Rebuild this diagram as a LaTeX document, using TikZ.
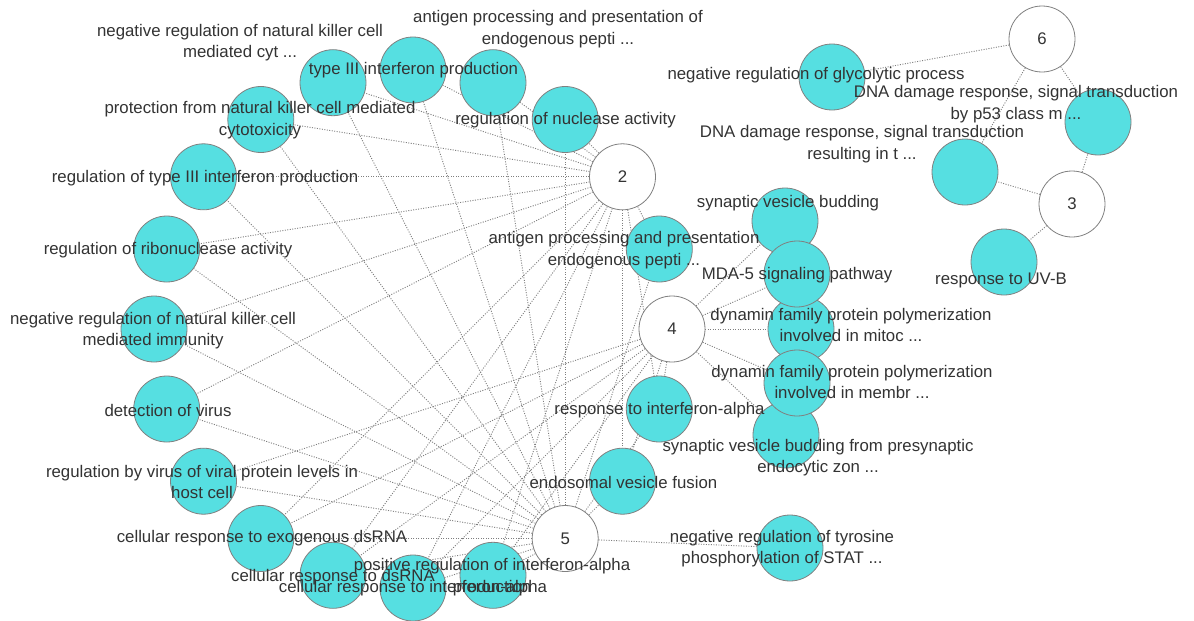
\documentclass[tikz,border=0pt]{standalone}
\usepackage{fontspec}
\setmainfont{Liberation Sans}
\usetikzlibrary{backgrounds}
\definecolor{termcyan}{HTML}{56DFE1}
\definecolor{bordergray}{HTML}{808080}
\definecolor{edgegray}{HTML}{7E7E7E}
\definecolor{txt}{HTML}{333333}
\begin{document}
\begin{tikzpicture}[x=1pt,y=-1pt,
  term/.style={circle, draw=bordergray, fill=termcyan, minimum size=66pt, inner sep=0pt, line width=0.8pt},
  hub/.style={circle, draw=bordergray, fill=white, minimum size=66pt, inner sep=0pt, line width=0.8pt, text=txt, font=\fontsize{16.8pt}{21pt}\selectfont},
  lbl/.style={text=txt, font=\fontsize{16.8pt}{21.5pt}\selectfont, align=center, inner sep=0pt},
  edge/.style={draw=edgegray, line width=0.9pt, dash pattern=on 1pt off 1.5pt}]
\useasboundingbox (0,0) rectangle (1194,621);
% hubs
\node[hub] (h2) at (622.5,176.8) {2};
\node[hub] (h4) at (672,329) {4};
\node[hub] (h5) at (565.2,538.5) {5};
\node[hub] (h6) at (1042,39) {6};
\node[hub] (h3) at (1072,204) {3};
% circle of terms
\node[term] (t18) at (659.3,249.0) {};
\node[term] (t54) at (565.2,119.5) {};
\node[term] (t72) at (493.0,82.7) {};
\node[term] (t90) at (413,70) {};
\node[term] (t108) at (333.0,82.7) {};
\node[term] (t126) at (260.8,119.5) {};
\node[term] (t144) at (203.5,176.8) {};
\node[term] (t162) at (166.7,249.0) {};
\node[term] (t180) at (154,329) {};
\node[term] (t198) at (166.7,409.0) {};
\node[term] (t216) at (203.5,481.2) {};
\node[term] (t234) at (260.8,538.5) {};
\node[term] (t252) at (333.0,575.3) {};
\node[term] (t270) at (413,588) {};
\node[term] (t288) at (493.0,575.3) {};
\node[term] (t324) at (622.5,481.2) {};
\node[term] (t342) at (659.3,409.0) {};
% right cluster
\node[term] (synbud) at (785,221) {};
\node[term] (synpre) at (786,435) {};
\node[term] (dynmit) at (801,329) {};
\node[term] (mda) at (797,274) {};
\node[term] (dynmem) at (797,383) {};
\node[term] (stat) at (790,548) {};
\node[term] (glyco) at (832,77) {};
\node[term] (p53) at (1098,122) {};
\node[term] (rit) at (965,172) {};
\node[term] (uvb) at (1004,262) {};
% edges
\begin{pgfonlayer}{background}
\fill[white] (0,0) rectangle (1194,621);
\foreach \t in {t18,t54,t72,t90,t108,t126,t144,t162,t180,t198,t234,t252,t270,t288,t324,t342}
  \draw[edge] (h2) -- (\t);
\foreach \t in {t18,t54,t72,t90,t108,t126,t144,t162,t180,t198,t216,t234,t252,t270,t288,t324,t342,stat}
  \draw[edge] (h5) -- (\t);
\foreach \t in {synbud,mda,dynmit,dynmem,synpre,t216,t234,t252,t270,t288,t324,t342}
  \draw[edge] (h4) -- (\t);
\foreach \t in {glyco,p53,rit}
  \draw[edge] (h6) -- (\t);
\foreach \t in {p53,rit,uvb}
  \draw[edge] (h3) -- (\t);
\end{pgfonlayer}
% labels
\node[lbl] (l18) at (624,250) {antigen processing and presentation\\endogenous pepti ...};
\node[lbl] (l54) at (565.5,120) {regulation of nuclease activity};
\node[lbl] (l72) at (558,29) {antigen processing and presentation of\\endogenous pepti ...};
\node[lbl] (l90) at (413.5,70) {type III interferon production};
\node[lbl] (l108) at (240,42.5) {negative regulation of natural killer cell\\mediated cyt ...};
\node[lbl] (l126) at (260,120) {protection from natural killer cell mediated\\cytotoxicity};
\node[lbl] (l144) at (205,178) {regulation of type III interferon production};
\node[lbl] (l162) at (168,250) {regulation of ribonuclease activity};
\node[lbl] (l180) at (153,330.5) {negative regulation of natural killer cell\\mediated immunity};
\node[lbl] (l198) at (168,410) {detection of virus};
\node[lbl] (l216) at (202,482) {regulation by virus of viral protein levels in\\host cell};
\node[lbl] (l234) at (262,538) {cellular response to exogenous dsRNA};
\node[lbl] (l252) at (333,577) {cellular response to dsRNA};
\node[lbl] (l270) at (413,588) {cellular response to interferon-alpha};
\node[lbl] (l288) at (492,577) {positive regulation of interferon-alpha\\production};
\node[lbl] (l324) at (623.5,482) {endosomal vesicle fusion};
\node[lbl] (l342) at (659.5,410) {response to interferon-alpha};
\node[lbl] (lsynbud) at (788,203) {synaptic vesicle budding};
\node[lbl] (lmda) at (797,275) {MDA-5 signaling pathway};
\node[lbl] (ldynmit) at (851,325) {dynamin family protein polymerization\\involved in mitoc ...};
\node[lbl] (ldynmem) at (852,382) {dynamin family protein polymerization\\involved in membr ...};
\node[lbl] (lsynpre) at (818,457.5) {synaptic vesicle budding from presynaptic\\endocytic zon ...};
\node[lbl] (lstat) at (782,548.5) {negative regulation of tyrosine\\phosphorylation of STAT ...};
\node[lbl] (lglyco) at (816,75) {negative regulation of glycolytic process};
\node[lbl] (lp53) at (1016,104) {DNA damage response, signal transduction\\by p53 class m ...};
\node[lbl] (lrit) at (862,144) {DNA damage response, signal transduction\\resulting in t ...};
\node[lbl] (luvb) at (1001,280) {response to UV-B};
\end{tikzpicture}
\end{document}
